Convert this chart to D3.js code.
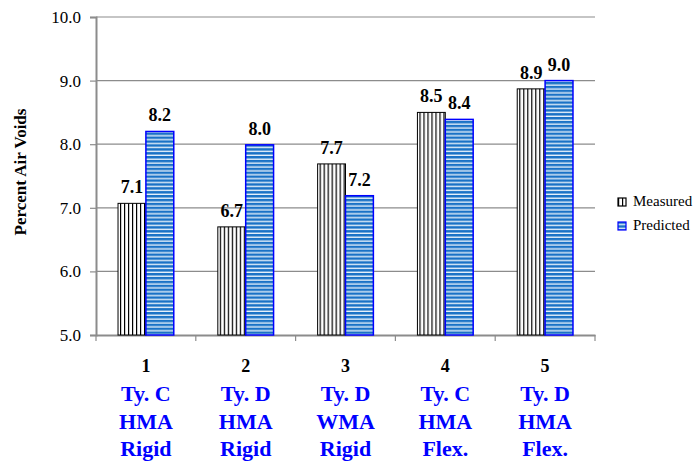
<!DOCTYPE html>
<html>
<head>
<meta charset="utf-8">
<script src="https://cdn.jsdelivr.net/npm/d3@7"></script>
<style>
  body { margin: 0; background: #fff; }
  svg text { font-family: 'Liberation Serif', 'Times New Roman', Tinos, serif !important; }
</style>
</head>
<body>
<div id="chart"></div>
<script>
// data
const categories = ["1", "2", "3", "4", "5"];
const catLabels = [
  ["Ty. C", "HMA", "Rigid"],
  ["Ty. D", "HMA", "Rigid"],
  ["Ty. D", "WMA", "Rigid"],
  ["Ty. C", "HMA", "Flex."],
  ["Ty. D", "HMA", "Flex."]
];
const measured = [7.07, 6.70, 7.69, 8.50, 8.87];
const predicted = [8.20, 7.99, 7.19, 8.39, 9.00];
const seriesNames = ["Measured", "Predicted"];
const yTicks = [5, 6, 7, 8, 9, 10];

const width = 696, height = 462;
const margin = { left: 96, right: 101, top: 17, bottom: 127 };
const serif = "'Liberation Serif', 'Times New Roman', serif";

const svg = d3.select("#chart").append("svg")
  .attr("width", width)
  .attr("height", height)
  .attr("font-family", serif);

// 패턴 정의
const defs = svg.append("defs");
const pm = defs.append("pattern")
  .attr("id", "pat-measured")
  .attr("patternUnits", "userSpaceOnUse")
  .attr("width", 4).attr("height", 4);
pm.append("rect").attr("width", 4).attr("height", 4).attr("fill", "#fff");
pm.append("rect").attr("x", 0).attr("width", 1.2).attr("height", 4).attr("fill", "#000");

const pp = defs.append("pattern")
  .attr("id", "pat-predicted")
  .attr("patternUnits", "userSpaceOnUse")
  .attr("width", 4).attr("height", 3.9);
pp.append("rect").attr("width", 4).attr("height", 3.9).attr("fill", "#e6f0fa");
pp.append("rect").attr("y", 0).attr("width", 4).attr("height", 2.5).attr("fill", "#1a72c6");

const x = d3.scaleBand()
  .domain(categories)
  .range([margin.left, width - margin.right]);

const x1 = d3.scaleBand()
  .domain(seriesNames)
  .range([0, x.bandwidth()])
  .paddingOuter(0.79)
  .paddingInner(0);

const y = d3.scaleLinear()
  .domain([5, 10])
  .range([height - margin.bottom, margin.top]);

// 그리드 라인
svg.append("g")
  .selectAll("line")
  .data(yTicks.slice(1))
  .enter().append("line")
  .attr("x1", margin.left)
  .attr("x2", width - margin.right)
  .attr("y1", d => y(d))
  .attr("y2", d => y(d))
  .attr("stroke", "#8c8c8c")
  .attr("stroke-width", 1.2);

// y축
const yAxis = svg.append("g")
  .attr("transform", `translate(${margin.left},0)`)
  .call(d3.axisLeft(y).tickValues(yTicks).tickFormat(d3.format(".1f")).tickSizeOuter(0).tickSize(6));
yAxis.attr("font-family", serif);
yAxis.select(".domain").attr("stroke", "#8c8c8c").attr("stroke-width", 2);
yAxis.selectAll(".tick line").attr("stroke", "#8c8c8c").attr("stroke-width", 1.2);
yAxis.selectAll(".tick text")
  .attr("x", -15)
  .style("font-size", "17px")
  .attr("fill", "#000");

// x축
const xAxis = svg.append("g")
  .attr("transform", `translate(0,${height - margin.bottom})`)
  .call(d3.axisBottom(x).tickSize(0).tickFormat(""));
xAxis.select(".domain").attr("stroke", "#8c8c8c").attr("stroke-width", 2);
xAxis.selectAll(".xt")
  .data(categories.map(c => x(c)).concat([width - margin.right]))
  .enter().append("line")
  .attr("class", "xt")
  .attr("x1", d => d).attr("x2", d => d)
  .attr("y1", 0).attr("y2", 6)
  .attr("stroke", "#8c8c8c")
  .attr("stroke-width", 1.2);

// 막대
const groups = svg.append("g")
  .selectAll("g")
  .data(categories)
  .enter().append("g")
  .attr("transform", d => `translate(${x(d)},0)`);

groups.append("rect")
  .attr("x", x1("Measured"))
  .attr("y", (d, i) => y(measured[i]))
  .attr("width", x1.bandwidth())
  .attr("height", (d, i) => y(5) - y(measured[i]))
  .attr("fill", "url(#pat-measured)")
  .attr("stroke", "#000")
  .attr("stroke-width", 1);

groups.append("rect")
  .attr("x", x1("Predicted"))
  .attr("y", (d, i) => y(predicted[i]))
  .attr("width", x1.bandwidth())
  .attr("height", (d, i) => y(5) - y(predicted[i]))
  .attr("fill", "url(#pat-predicted)")
  .attr("stroke", "#0000ff")
  .attr("stroke-width", 1.5);

// 값 라벨
groups.append("text")
  .attr("x", x1("Measured") + x1.bandwidth() / 2)
  .attr("y", (d, i) => y(measured[i]) - 10)
  .attr("text-anchor", "middle")
  .style("font-size", "18px")
  .style("font-weight", "bold")
  .text((d, i) => measured[i].toFixed(1));

groups.append("text")
  .attr("x", x1("Predicted") + x1.bandwidth() / 2)
  .attr("y", (d, i) => y(predicted[i]) - 10)
  .attr("text-anchor", "middle")
  .style("font-size", "18px")
  .style("font-weight", "bold")
  .text((d, i) => predicted[i].toFixed(1));

// 카테고리 라벨
groups.append("text")
  .attr("x", x.bandwidth() / 2)
  .attr("y", 372)
  .attr("text-anchor", "middle")
  .style("font-size", "18px")
  .style("font-weight", "bold")
  .text(d => d);

groups.each(function(d, i) {
  d3.select(this).selectAll(".cl")
    .data(catLabels[i])
    .enter().append("text")
    .attr("class", "cl")
    .attr("x", x.bandwidth() / 2)
    .attr("y", (t, j) => 401 + j * 27.5)
    .attr("text-anchor", "middle")
    .attr("fill", "#0000ff")
    .style("font-size", "22px")
    .style("font-weight", "bold")
    .text(t => t);
});

// y축 제목
svg.append("text")
  .attr("transform", "translate(26,172) rotate(-90)")
  .attr("text-anchor", "middle")
  .style("font-size", "17px")
  .style("font-weight", "bold")
  .text("Percent Air Voids");

// 범례
const legend = svg.append("g")
  .attr("transform", "translate(618,198)");
const legendFills = ["url(#pat-measured)", "url(#pat-predicted)"];
const legendStrokes = ["#000", "#0000ff"];
legend.selectAll("rect")
  .data(seriesNames)
  .enter().append("rect")
  .attr("x", 0)
  .attr("y", (d, i) => i * 24)
  .attr("width", 8)
  .attr("height", 8)
  .attr("fill", (d, i) => legendFills[i])
  .attr("stroke", (d, i) => legendStrokes[i])
  .attr("stroke-width", 1.2);
legend.selectAll("text")
  .data(seriesNames)
  .enter().append("text")
  .attr("x", 15)
  .attr("y", (d, i) => i * 24 + 8)
  .style("font-size", "15px")
  .text(d => d);
</script>
</body>
</html>
